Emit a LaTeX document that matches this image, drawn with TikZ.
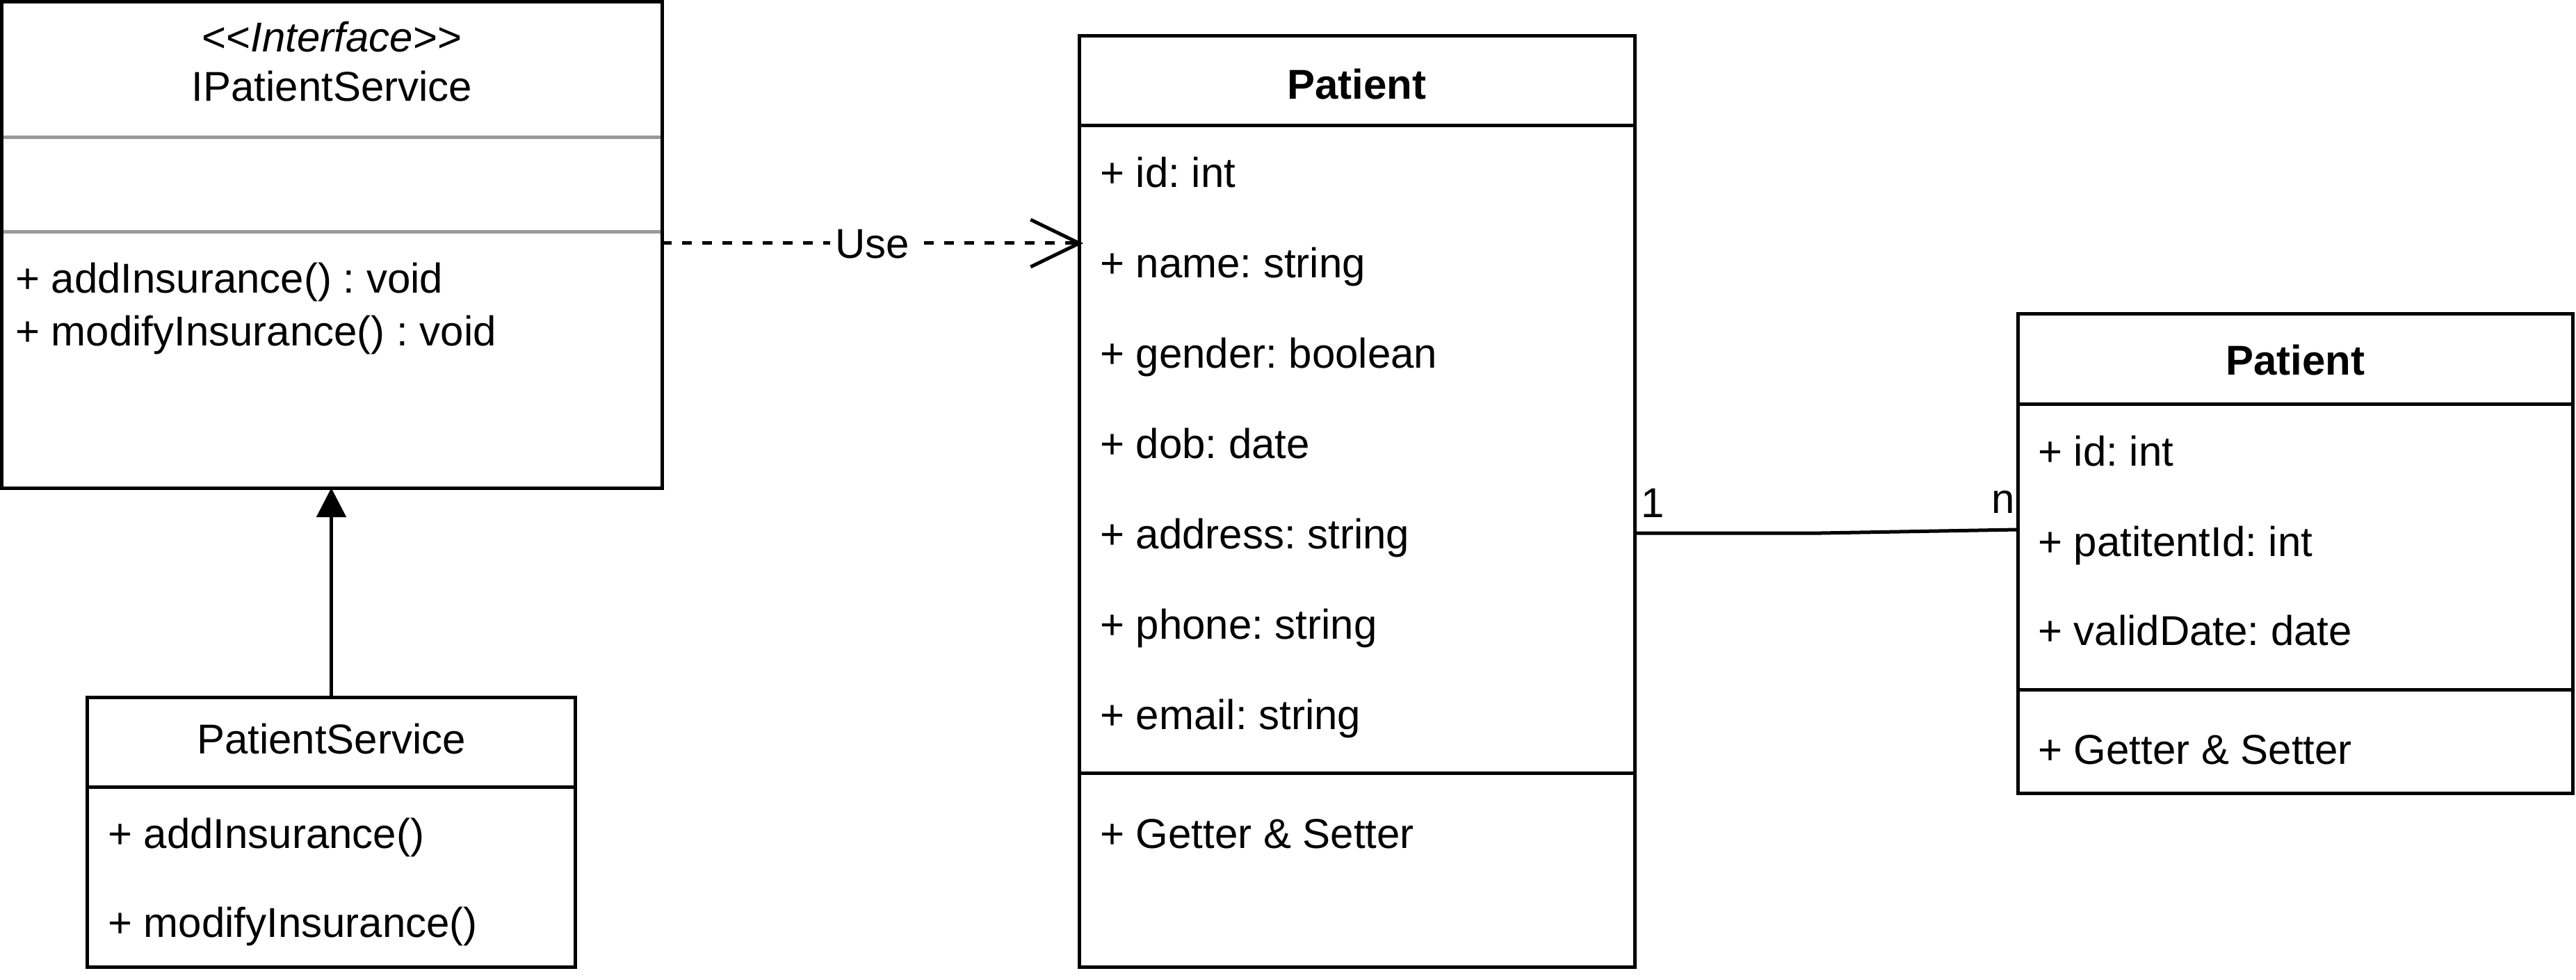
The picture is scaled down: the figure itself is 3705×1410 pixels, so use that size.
\documentclass[tikz,border=0pt]{standalone}
\usepackage{fontspec}
\setmainfont{Liberation Sans}
\usetikzlibrary{arrows.meta}
\definecolor{sepgray}{RGB}{153,153,153}
\frenchspacing
\begin{document}
\frenchspacing
\begin{tikzpicture}[x=0.2pt,y=-0.2pt,
  every node/.style={font=\fontsize{12pt}{14pt}\selectfont},
  umlbox/.style={draw, line width=1pt, inner sep=0pt, outer sep=0pt},
  txt/.style={inner sep=0pt, text height=8.6pt, text depth=0pt},
  row/.style={txt, anchor=west},
  boldtxt/.style={txt, font=\fontsize{12pt}{14pt}\selectfont\bfseries},
  conn/.style={line width=1pt},
  graysep/.style={line width=1pt, draw=sepgray},
  usedash/.style={dash pattern=on 2.8pt off 3pt}]
\useasboundingbox (0,0) rectangle (3705,1410);

% Interface IPatientService
\draw[graysep] (0,198) -- (950,198);
\draw[graysep] (0,334) -- (950,334);
\node[umlbox, minimum width=189.8pt, minimum height=139.8pt] (iface) at (477.5,352.5) {};
\node[txt] (ifst) at (477.5,53) {<\kern0pt<\textit{Interface}>\kern0pt>};
\node[txt] (ifname) at (477.5,124) {IPatientService};
\node[row] (ifm1) at (21,400) {+ addInsurance() : void};
\node[row] (ifm2) at (21,476) {+ modifyInsurance() : void};

% PatientService
\node[umlbox, minimum width=140.2pt, minimum height=77.6pt] (psvc) at (476.5,1197) {};
\node[txt] (psname) at (476.5,1062.5) {PatientService};
\draw[conn] (psvc.west |- 0,1132) -- (psvc.east |- 0,1132);
\node[row] (psm1) at (154,1198.5) {+ addInsurance()};
\node[row] (psm2) at (154,1326.5) {+ modifyInsurance()};

% Patient (middle)
\node[umlbox, minimum width=159.8pt, minimum height=267.8pt] (pmid) at (1951.5,721.5) {};
\node[boldtxt] (pmidname) at (1951.5,121) {Patient};
\draw[conn] (pmid.west |- 0,181) -- (pmid.east |- 0,181);
\node[row] (pm1) at (1581,248) {+ id: int};
\node[row] (pm2) at (1581,378) {+ name: string};
\node[row] (pm3) at (1581,508) {+ gender: boolean};
\node[row] (pm4) at (1581,638) {+ dob: date};
\node[row] (pm5) at (1581,768) {+ address: string};
\node[row] (pm6) at (1581,898) {+ phone: string};
\node[row] (pm7) at (1581,1028) {+ email: string};
\draw[conn] (pmid.west |- 0,1112) -- (pmid.east |- 0,1112);
\node[row] (pm8) at (1581,1199) {+ Getter \& Setter};

% Patient (right)
\node[umlbox, minimum width=159.6pt, minimum height=137.8pt] (prt) at (3301,796.5) {};
\node[boldtxt] (prtname) at (3301,518) {Patient};
\draw[conn] (prt.west |- 0,582) -- (prt.east |- 0,582);
\node[row] (pr1) at (2930,649) {+ id: int};
\node[row] (pr2) at (2930,779) {+ patitentId: int};
\node[row] (pr3) at (2930,907) {+ validDate: date};
\draw[conn] (prt.west |- 0,992) -- (prt.east |- 0,992);
\node[row] (pr4) at (2930,1078) {+ Getter \& Setter};

% Use dependency
\coordinate (usetip) at (1558,350);
\draw[conn, usedash, -{Straight Barb[length=14pt,width=13.6pt]}]
  (iface.east |- 0,350) -- node[txt, fill=white, inner xsep=1.5pt] (use) {Use} (usetip);

% Realization / generalization
\draw[conn, -{Triangle[length=8.4pt,width=8.4pt]}] (psvc.north) -- (psvc.north |- iface.south);

% Association
\coordinate (kink) at (2619,767);
\draw[conn] (pmid.east |- kink) -- (kink) -- (prt.west |- 0,762);
\node[txt, anchor=base west] (m1) at (2359,744) {1};
\node[txt, anchor=base west] (mn) at (2863,739) {n};
\end{tikzpicture}
\end{document}
